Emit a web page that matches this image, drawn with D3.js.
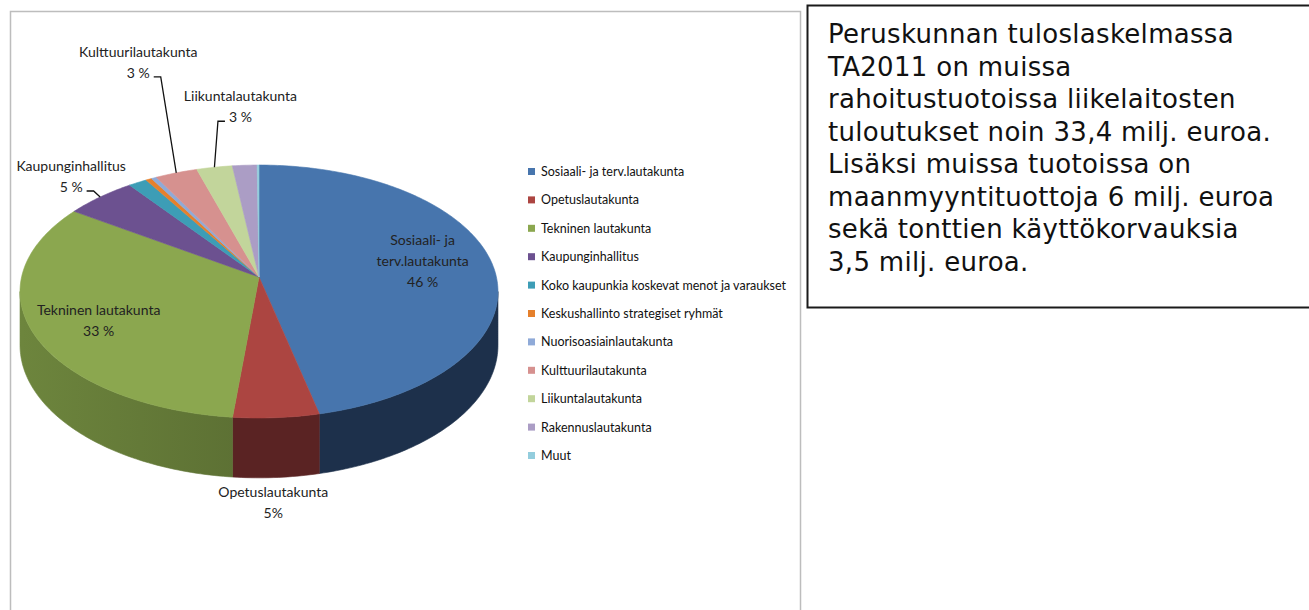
<!DOCTYPE html>
<html>
<head>
<meta charset="utf-8">
<script src="https://cdnjs.cloudflare.com/ajax/libs/d3/7.8.5/d3.min.js"></script>
<style>
  body { margin: 0; background: #fff; }
  svg { display: block; }
  .lbl { font-family: Lato, "Open Sans", sans-serif; font-size: 14px; fill: #222; }
  .leg { font-family: Lato, "Open Sans", sans-serif; font-size: 12.5px; fill: #111; }
  .note { font-family: "DejaVu Sans", Verdana, sans-serif; font-size: 26px; letter-spacing: 0.3px; fill: #111; }
</style>
</head>
<body>
<div id="root"></div>
<script>
const WIDTH = 1309;
const HEIGHT = 610;

// budget shares (%)
const categories = [
    'Sosiaali- ja terv.lautakunta',
    'Opetuslautakunta',
    'Tekninen lautakunta',
    'Kaupunginhallitus',
    'Koko kaupunkia koskevat menot ja varaukset',
    'Keskushallinto strategiset ryhmät',
    'Nuorisoasiainlautakunta',
    'Kulttuurilautakunta',
    'Liikuntalautakunta',
    'Rakennuslautakunta',
    'Muut'
];
const shares = [46.4, 5.2, 32.9, 5.4, 1.4, 0.45, 0.4, 3.2, 2.7, 1.86, 0.14];
const pctLabels = ['46 %', '5%', '33 %', '5 %', '', '', '', '3 %', '3 %', '', ''];

const noteLines = [
    'Peruskunnan tuloslaskelmassa',
    'TA2011 on muissa',
    'rahoitustuotoissa liikelaitosten',
    'tuloutukset noin 33,4 milj. euroa.',
    'Lisäksi muissa tuotoissa on',
    'maanmyyntituottoja 6 milj. euroa',
    'sekä tonttien käyttökorvauksia',
    '3,5 milj. euroa.'
];

// styles
const topColors = ['#4775ad', '#ac4541', '#8ba74f', '#6c5190', '#3d9db6', '#e5802c',
                   '#8faad8', '#d6918f', '#c2d59b', '#ab9dc5', '#93cddd'];
const sideColors = ['#1d304b', '#5a2323', '#5d7134', '#45335e', '#266675', '#94521b',
                    '#5d6f8d', '#8b5e5d', '#7e8a64', '#6f6680', '#5f8590'];

// label layout: where each label goes relative to its slice
const labelPlace = {
    'Sosiaali- ja terv.lautakunta': { mode: 'inside', r: 0.7, lines: ['Sosiaali- ja', 'terv.lautakunta'], dy: -6 },
    'Tekninen lautakunta': { mode: 'inside', r: 0.72, lines: ['Tekninen lautakunta'], dy: 4 },
    'Opetuslautakunta': { mode: 'below', lines: ['Opetuslautakunta'], dy: 15 },
    'Kaupunginhallitus': { mode: 'leader', lines: ['Kaupunginhallitus'], dx: -29, dy: -10 },
    'Kulttuurilautakunta': { mode: 'leader', lines: ['Kulttuurilautakunta'], dx: -38, dy: -100 },
    'Liikuntalautakunta': { mode: 'leader', lines: ['Liikuntalautakunta'], dx: 26, dy: -50 }
};

// tilted disc in perspective
const pie3d = { cx: 259, cy: 277, rx: 237.4, ry: 124.8, k: 0.1147, depth: 53 };
const LINE_H = 21;

function proj(theta, r) {
    const u = r * Math.sin(theta), v = r * Math.cos(theta);
    const s = 1 / (1 + pie3d.k * v);
    return { x: pie3d.cx + pie3d.rx * u * s, y: pie3d.cy - pie3d.ry * v * s, s: s };
}
function arcPoints(a0, a1) {
    const n = Math.max(2, Math.ceil((a1 - a0) / (Math.PI / 180)));
    return d3.range(n + 1).map(i => proj(a0 + (a1 - a0) * i / n, 1));
}

const svg = d3.select('#root').append('svg')
    .attr('width', WIDTH)
    .attr('height', HEIGHT);

// chart frame
svg.append('rect')
    .attr('x', 10.5).attr('y', 11.5)
    .attr('width', 790).attr('height', 640)
    .attr('fill', '#fff')
    .attr('stroke', '#bdbdbd')
    .attr('stroke-width', 1.5);

const pie = d3.pie().sort(null).value(d => d)(shares);
const line = d3.line().x(p => p.x).y(p => p.y);

const defs = svg.append('defs');
sideColors.forEach((c, i) => {
    const g = defs.append('linearGradient')
        .attr('id', `side${i}`)
        .attr('gradientUnits', 'userSpaceOnUse')
        .attr('x1', pie3d.cx - pie3d.rx).attr('x2', pie3d.cx + pie3d.rx)
        .attr('y1', 0).attr('y2', 0);
    g.append('stop').attr('offset', 0).attr('stop-color', d3.color(c).brighter(0.45));
    g.append('stop').attr('offset', 0.45).attr('stop-color', c);
    g.append('stop').attr('offset', 1).attr('stop-color', c);
});

// visible front wall runs between the silhouette angles
const frontStart = Math.acos(-pie3d.k);
const frontEnd = 2 * Math.PI - frontStart;

const sides = svg.append('g');
pie.forEach((d, i) => {
    const a0 = Math.max(d.startAngle, frontStart);
    const a1 = Math.min(d.endAngle, frontEnd);
    if (a1 <= a0) return;
    const top = arcPoints(a0, a1);
    const bottom = top.map(p => ({ x: p.x, y: p.y + pie3d.depth * p.s })).reverse();
    sides.append('path')
        .attr('d', line(top.concat(bottom)) + 'Z')
        .attr('fill', `url(#side${i})`)
        .attr('stroke', `url(#side${i})`)
        .attr('stroke-width', 0.6);
});

const faces = svg.append('g');
const apex = proj(0, 0);
pie.forEach((d, i) => {
    const pts = [apex].concat(arcPoints(d.startAngle, d.endAngle));
    faces.append('path')
        .attr('d', line(pts) + 'Z')
        .attr('fill', topColors[i])
        .attr('stroke', topColors[i])
        .attr('stroke-width', 0.6);
});

// data labels
const labels = svg.append('g');
function textBlock(lines, x, yCenter) {
    const n = lines.length;
    lines.forEach((t, j) => {
        labels.append('text')
            .attr('class', 'lbl')
            .attr('x', x)
            .attr('y', yCenter + (j - (n - 1) / 2) * LINE_H + 5)
            .attr('text-anchor', 'middle')
            .text(t);
    });
}

pie.forEach((d, i) => {
    const place = labelPlace[categories[i]];
    if (!place) return;
    const mid = (d.startAngle + d.endAngle) / 2;
    const lines = place.lines.concat([pctLabels[i]]);
    if (place.mode === 'inside') {
        const p = proj(mid, place.r);
        textBlock(lines, p.x, p.y + place.dy);
    } else if (place.mode === 'below') {
        const p = proj(mid, 1);
        const yb = p.y + pie3d.depth * p.s + place.dy;
        textBlock(lines, p.x - 3, yb + LINE_H / 2);
    } else {
        const rim = proj(mid, 1);
        const px = rim.x + place.dx, py = rim.y + place.dy;
        textBlock(lines, px, py - LINE_H / 2);
        const pct = labels.append('text')
            .attr('class', 'lbl')
            .attr('x', -999).text(pctLabels[i]);
        const w = pct.node().getComputedTextLength();
        pct.remove();
        const dir = place.dx < 0 ? 1 : -1;
        const ex = px + dir * (w / 2 + 4);
        const ly = py + 4;
        labels.append('path')
            .attr('d', line([{ x: ex, y: ly }, { x: ex + dir * 7, y: ly }, { x: rim.x, y: rim.y }]))
            .attr('fill', 'none')
            .attr('stroke', '#111')
            .attr('stroke-width', 1.3);
    }
});

// legend
const legendY = d3.scalePoint().domain(categories).range([172, 456]);
const legend = svg.selectAll('.legend')
    .data(categories)
  .enter().append('g')
    .attr('class', 'legend')
    .attr('transform', d => `translate(528, ${legendY(d)})`);

legend.append('rect')
    .attr('x', 0).attr('y', -4)
    .attr('width', 7).attr('height', 7)
    .attr('fill', (d, i) => topColors[i]);

legend.append('text')
    .attr('class', 'leg')
    .attr('x', 13)
    .attr('y', 4)
    .text(d => d);

// side note box
svg.append('rect')
    .attr('x', 807.5).attr('y', 5.5)
    .attr('width', 540).attr('height', 302)
    .attr('fill', '#fff')
    .attr('stroke', '#1a1a1a')
    .attr('stroke-width', 2);

svg.append('g').selectAll('text')
    .data(noteLines)
  .enter().append('text')
    .attr('class', 'note')
    .attr('x', 828)
    .attr('y', (d, i) => 43 + i * 32.5)
    .text(d => d);
</script>
</body>
</html>
